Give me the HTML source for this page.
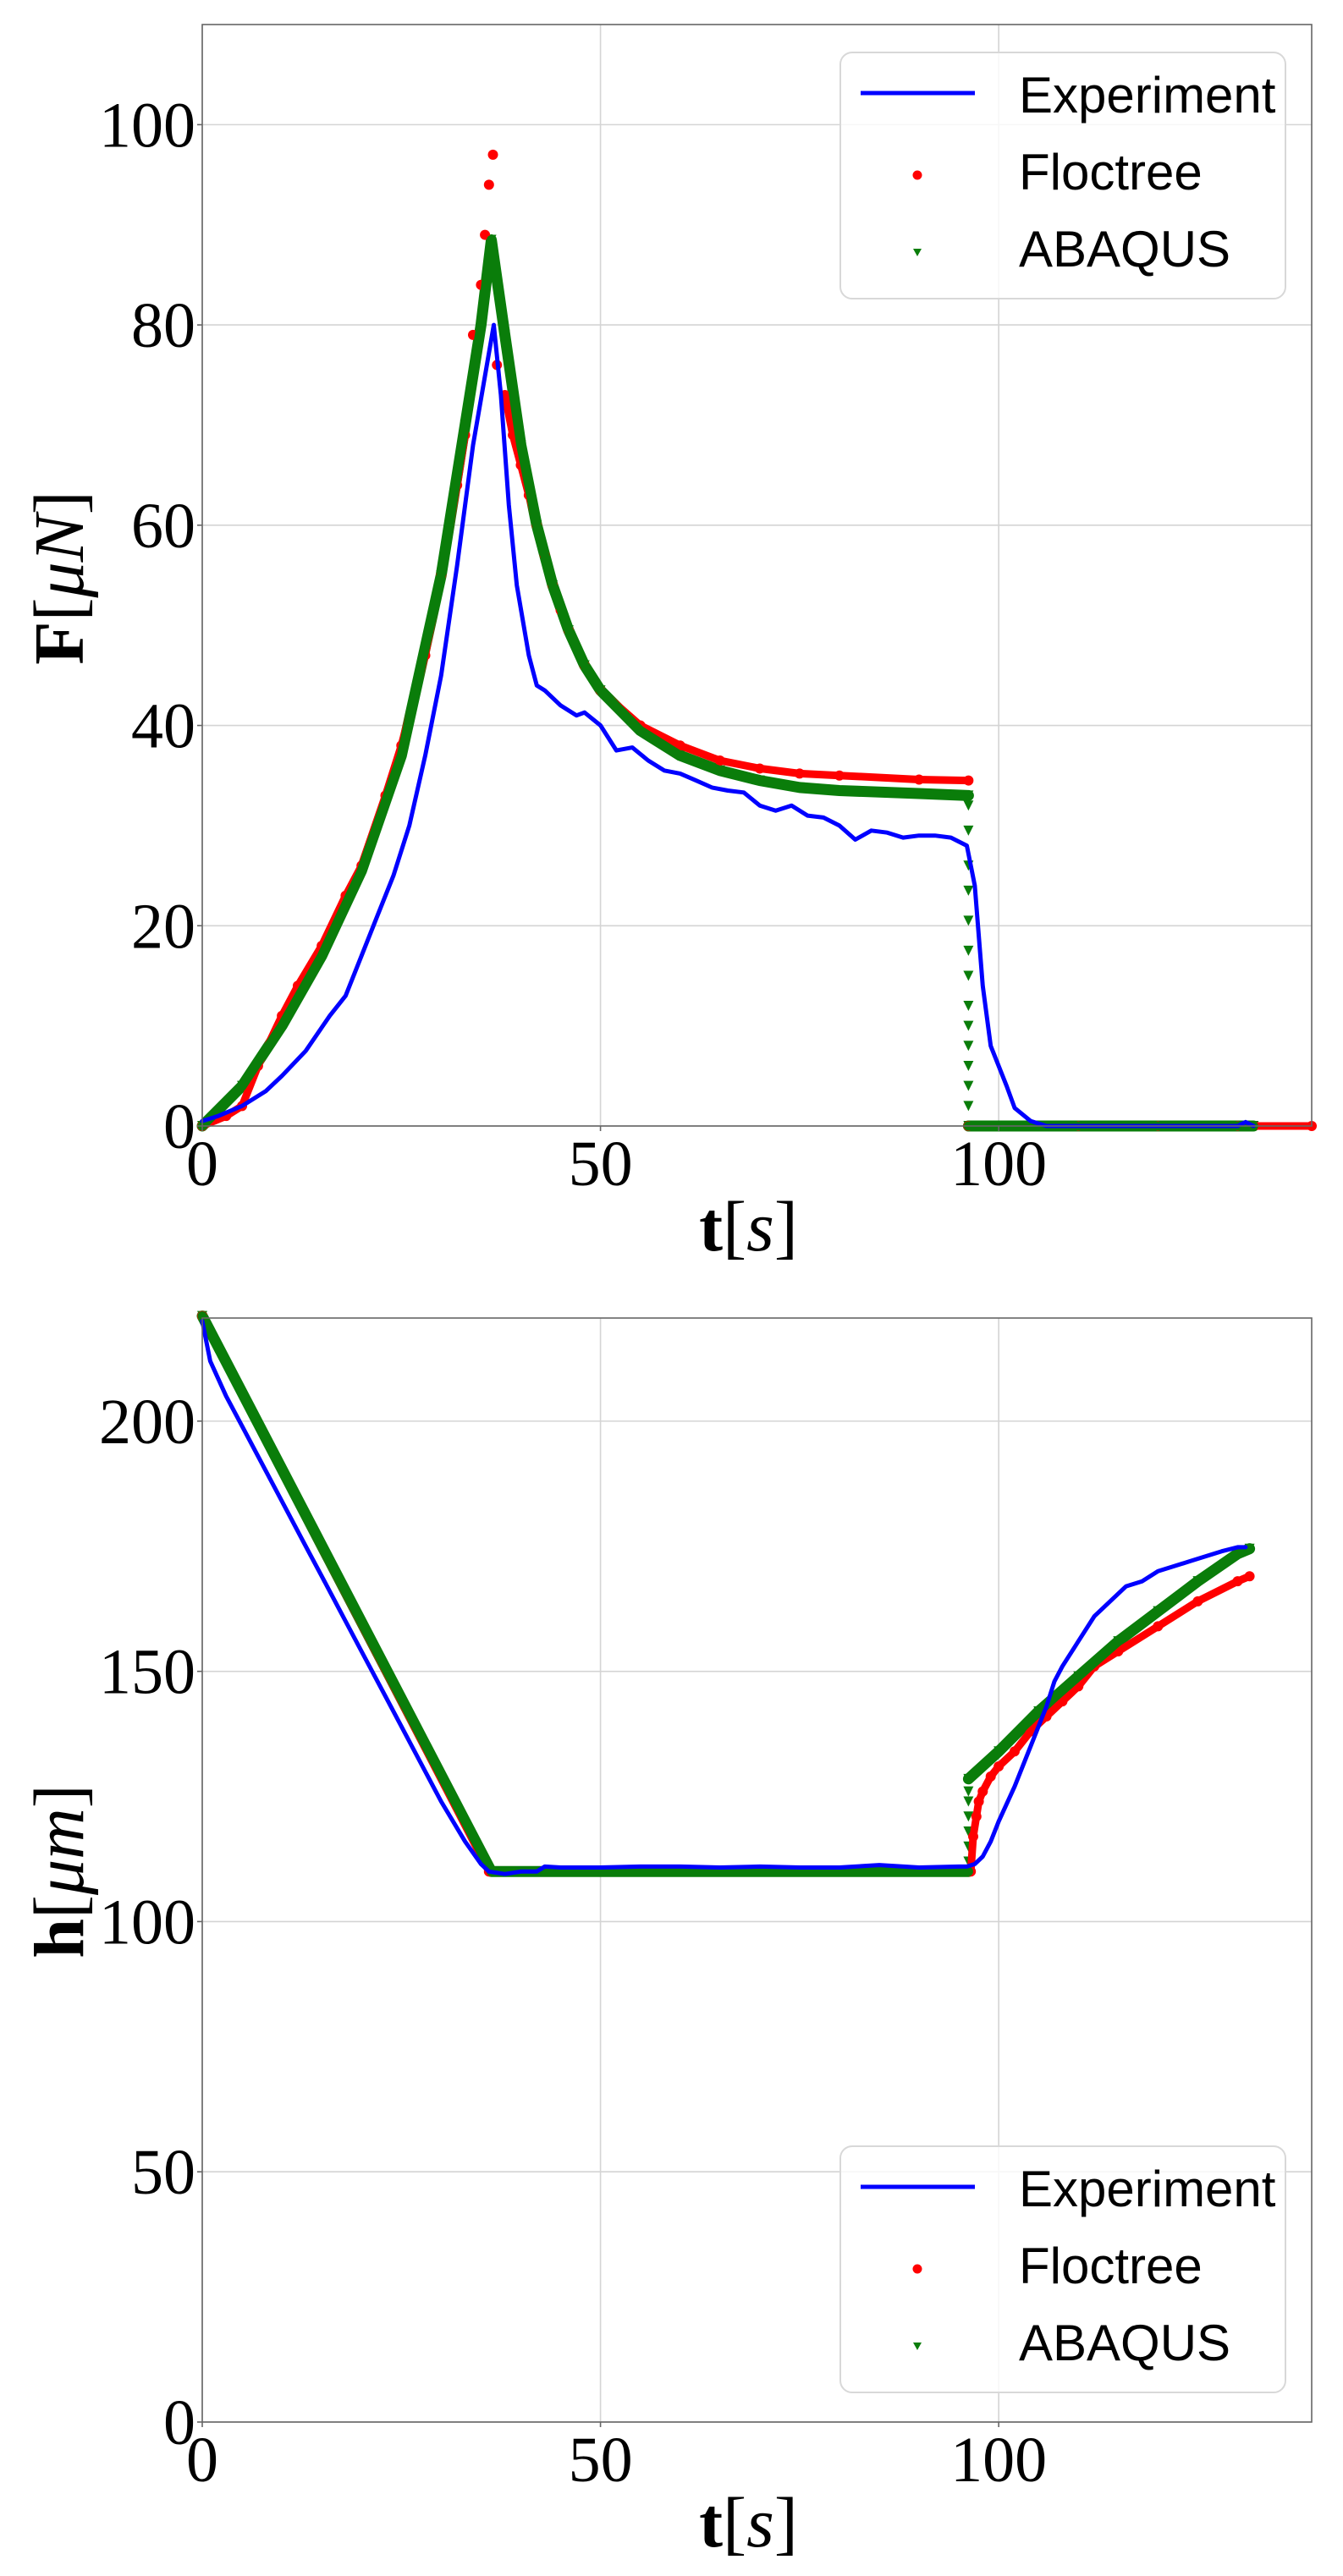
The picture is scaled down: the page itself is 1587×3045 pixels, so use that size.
<!DOCTYPE html>
<html><head><meta charset="utf-8">
<style>
html,body{margin:0;padding:0;background:#fff;}
svg{display:block;}
.tick{font-family:"Liberation Serif",serif;font-size:76px;fill:#000;}
.leg{font-family:"Liberation Sans",sans-serif;font-size:60px;fill:#000;}
.lab{font-family:"Liberation Serif",serif;font-size:84px;fill:#000;}
</style></head>
<body>
<svg id="chart" width="1587" height="3045" viewBox="0 0 1587 3045" xmlns="http://www.w3.org/2000/svg"></svg>
<script>
// ---- Top chart data (Force) ----
const fExpT = [0,2,5,8,10,13,16,18,20,22,24,26,28,30,32,34,36.6,37.5,38.5,39.5,41,42,43,45,47,48,50,52,54,56,58,60,62,64,66,68,70,72,74,76,78,80,82,84,86,88,90,92,94,96,97,98,99,101,102,104,106,130,131,132];
const fExpV = [0.5,1,2,3.5,5,7.5,11,13,17,21,25,30,37,45,56,68,80,73,62,54,47,44,43.5,42,41,41.3,40,37.5,37.8,36.5,35.5,35.2,34.5,33.8,33.5,33.3,32,31.5,32,31,30.8,30,28.6,29.5,29.3,28.8,29,29,28.8,28,24,14,8,4,1.8,0.5,0,0,0.4,0];
const fFlocT = [0,3,5,7,10,12,15,18,20,23,25,28,30,32,33,34,35,35.5,36,36.5,37,38,39,40,41,42,43,44,45,46,48,50,55,60,65,70,75,80,90,96.2,96.2,110,120,130,139.3];
const fFlocV = [0,1,2,6,11,14,18,23,26,33,38,47,55,64,69,79,84,89,94,97,76,73,69,66,63,60,57,54,51.5,49.5,46,43.5,40,38,36.5,35.7,35.2,35,34.6,34.5,0,0,0,0,0];
const fAbaT = [0,5,10,15,20,25,30,33,35,36.3,38,40,42,44,46,48,50,55,60,65,70,75,80,90,96.2,96.2,96.2,96.2,96.2,96.2,96.2,96.2,96.2,96.2,96.2,96.2,96.2,96.2,96.2,100,110,120,132];
const fAbaV = [0,4,10,17,25.5,37,55,70,80,88.5,79,68,60,54,49.5,46,43.5,39.5,37,35.5,34.5,33.8,33.5,33.2,33,32,29.5,26,23.5,20.5,17.5,15,12,10,8,6,4,2,0,0,0,0,0];
const fTicksY = [0,20,40,60,80,100];
const xTicks = [0,50,100];
// ---- Bottom chart data (Height) ----
const hExpT = [0,1,3,5,7,10,13,15,18,20,23,25,28,30,33,35,36,38,40,42,43,45,50,55,60,65,70,75,80,85,90,95,96,97,98,99,100,102,104,106,107,108,110,112,114,116,118,120,122,124,126,128,130,131];
const hExpV = [220,212,205,199,193,184,175,169,160,154,145,139,130,124,116,111.5,110,109.5,110,110,111,110.8,110.8,111,111,110.8,111,110.8,110.8,111.3,110.8,111,111,111.5,113,116,120,127,135,143,148,151,156,161,164,167,168,170,171,172,173,174,174.8,174.8];
const hFlocT = [0,36,96.5,96.8,97.2,97.5,98,99,100,102,104,106,108,110,112,115,120,125,130,131.5];
const hFlocV = [221,110,110,117,121,124,126,129,131,134,138,141,144,147,151,154,159,164,168,169];
const hAbaT = [0,36.3,96.2,96.2,96.2,96.2,96.2,96.2,96.2,96.2,100,105,110,115,120,125,130,131.5];
const hAbaV = [221,110,110,112,115,118,121,124,126,128.5,134,142,149,156,162,168,173.5,174.5];
const hTicksY = [0,50,100,150,200];

const NS = "http://www.w3.org/2000/svg";
const svg = document.getElementById('chart');
function mk(tag, attrs, parent){ const e=document.createElementNS(NS,tag); for(const k in attrs) e.setAttribute(k,attrs[k]); (parent||svg).appendChild(e); return e; }

function drawChart(cfg){
  const L=239, R=1550, T=cfg.top, B=cfg.bottom, XMAX=139.3;
  const sx = t => L + t/XMAX*(R-L);
  const sy = v => B - v/cfg.ymax*(B-T);
  const g = mk('g',{});
  
  
  xTicks.forEach(t=>{
    const l=mk('line',{x1:sx(t),x2:sx(t),y1:T,y2:B,stroke:'#d4d4d4','stroke-width':1.6},g);
    
    
  });
  cfg.yticks.forEach(v=>{
    const l=mk('line',{x1:L,x2:R,y1:sy(v),y2:sy(v),stroke:'#d4d4d4','stroke-width':1.6},g);
    
    
  });
  function series(T_, V_, color, width, name, skip){
    const sg=mk('g',{},g);
    
    
    let seg=[];
    const flush=()=>{ if(seg.length>1){ mk('polyline',{points:seg.join(' '),fill:'none',stroke:color,'stroke-width':width,'stroke-linejoin':'round','stroke-linecap':'round'},sg);} seg=[]; };
    for(let i=0;i<T_.length;i++){
      if(i>0 && T_[i]===T_[i-1]){ flush(); }
      if(skip && skip(T_[i])){ flush(); continue; }
      seg.push(sx(T_[i]).toFixed(1)+','+sy(V_[i]).toFixed(1));
    }
    flush();
    return sg;
  }
  const ga=series(cfg.aT,cfg.aV,'#0a7d0a',13,'abaqus-series');
  for(let i=0;i<cfg.aT.length;i++){
    const x=sx(cfg.aT[i]), y=sy(cfg.aV[i]);
    const p=mk('polygon',{points:`${x-6},${y-6} ${x+6},${y-6} ${x},${y+6}`,fill:'#0a7d0a'},ga);
    
    
  }
  const gf=series(cfg.fT,cfg.fV,'#ff0000',9,'floctree-series', cfg.fSkip);
  for(let i=0;i<cfg.fT.length;i++){
    const c=mk('circle',{cx:sx(cfg.fT[i]),cy:sy(cfg.fV[i]),r:6,fill:'#ff0000'},gf);
    
    
  }
  series(cfg.aT,cfg.aV,'#0a7d0a',11,'abaqus-series-top');
  series(cfg.eT,cfg.eV,'#0000ff',5,'experiment-series');
  const fr=mk('rect',{x:L,y:T,width:R-L,height:B-T,fill:'none',stroke:'#666','stroke-width':1.6},g);
  
  
  xTicks.forEach(t=>{
    mk('line',{x1:sx(t),x2:sx(t),y1:B,y2:B+6,stroke:'#666','stroke-width':1.6},g);
    const tx=mk('text',{x:sx(t),y:B+70,'text-anchor':'middle',class:'tick'},g);
    tx.textContent=t;
    
    
  });
  cfg.yticks.forEach(v=>{
    mk('line',{x1:L-6,x2:L,y1:sy(v),y2:sy(v),stroke:'#666','stroke-width':1.6},g);
    const tx=mk('text',{x:231,y:sy(v)+26,'text-anchor':'end',class:'tick'},g);
    tx.textContent=v;
    
    
  });
  const xl=mk('text',{x:(L+R)/2 - 10,y:cfg.xlabY,'text-anchor':'middle',class:'lab'},g);
  xl.innerHTML='<tspan font-weight="bold">t</tspan>[<tspan font-style="italic">s</tspan>]';
  
  
  const yl=mk('text',{x:0,y:0,'text-anchor':'middle',class:'lab',transform:`translate(98,${cfg.ylabY}) rotate(-90)`},g);
  yl.innerHTML=cfg.ylab;
  
  
  const lg=mk('g',{transform:`translate(0,${cfg.legDy})`},g);
  
  
  mk('rect',{x:993,y:62,width:526,height:291,rx:14,fill:'rgba(255,255,255,0.8)',stroke:'#d8d8d8','stroke-width':2},lg);
  const e1=mk('g',{},lg);
  
  
  mk('line',{x1:1017,x2:1152,y1:110,y2:110,stroke:'#0000ff','stroke-width':5},e1);
  const t1=mk('text',{x:1204,y:133,class:'leg'},e1); t1.textContent='Experiment';
  const e2=mk('g',{},lg);
  
  
  mk('circle',{cx:1084,cy:207,r:5.5,fill:'#ff0000'},e2);
  const t2=mk('text',{x:1204,y:224,class:'leg'},e2); t2.textContent='Floctree';
  const e3=mk('g',{},lg);
  
  
  mk('polygon',{points:'1079,294 1089,294 1084,303',fill:'#0a7d0a'},e3);
  const t3=mk('text',{x:1204,y:315,class:'leg'},e3); t3.textContent='ABAQUS';
}

drawChart({name:'force-chart',top:29,bottom:1331,ymax:110,yticks:fTicksY,
  eT:fExpT,eV:fExpV,fT:fFlocT,fV:fFlocV,aT:fAbaT,aV:fAbaV,
  fSkip:(t)=>t>33 && t<38,
  xlabY:1478,ylabY:683,legDy:0,
  ylab:'<tspan font-weight="bold">F</tspan>[<tspan font-style="italic">μN</tspan>]'});
drawChart({name:'height-chart',top:1558,bottom:2863,ymax:220.6,yticks:hTicksY,
  eT:hExpT,eV:hExpV,fT:hFlocT,fV:hFlocV,aT:hAbaT,aV:hAbaV,
  xlabY:3010,ylabY:2212,legDy:2475,
  ylab:'<tspan font-weight="bold">h</tspan>[<tspan font-style="italic">μm</tspan>]'});
</script>
</body></html>
